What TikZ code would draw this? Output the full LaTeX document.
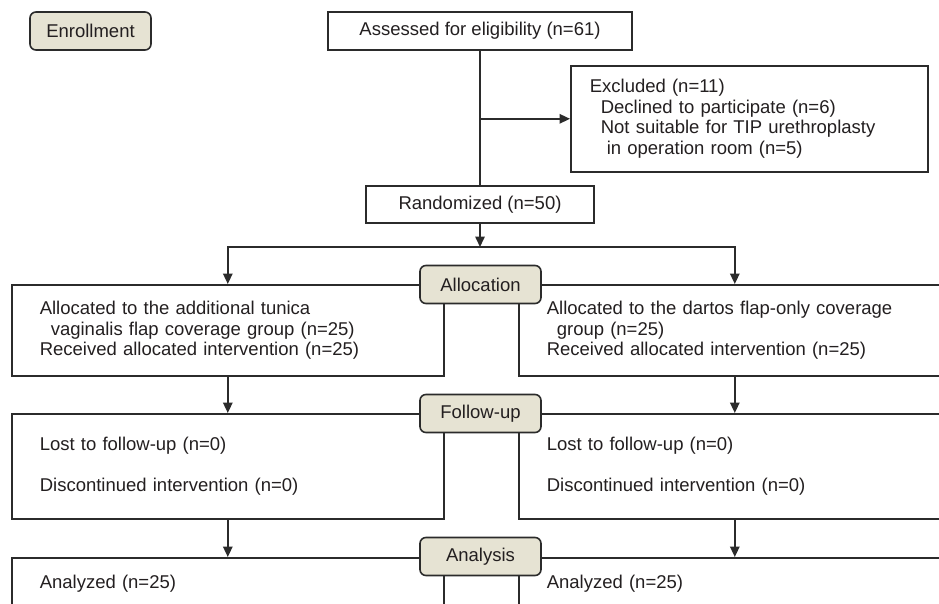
\documentclass[tikz,border=0pt]{standalone}
\usepackage{fontspec}
\setmainfont{Liberation Sans}
\usetikzlibrary{arrows.meta}
\definecolor{labfill}{HTML}{E6E3D3}
\definecolor{ln}{HTML}{2B2B2B}
\definecolor{tx}{HTML}{231F20}
\begin{document}
\begin{tikzpicture}[x=1pt,y=-1pt,
  every node/.style={font=\fontsize{18.5}{20.8}\selectfont, text=tx},
  plainbox/.style={draw=ln, line width=1.6pt, fill=white, rectangle, inner sep=0pt},
  textbox/.style={draw=ln, line width=1.6pt, fill=white, rectangle, anchor=north west,
     align=left, inner xsep=28pt, inner ysep=0pt, text width=376pt},
  stage/.style={draw=ln, line width=1.6pt, fill=labfill, rounded corners=6pt,
     minimum width=121pt, minimum height=38pt, inner sep=0pt},
  conn/.style={draw=ln, line width=1.6pt},
  arr/.style={conn, -{Triangle[length=10.5pt,width=9.5pt]}}
]
\clip (0,0) rectangle (939,604);
\fill[white] (0,0) rectangle (939,604);

% top part
\node[plainbox, minimum width=304pt, minimum height=38pt] (assess) at (480,31) {Assessed for eligibility (n=61)};
\node[plainbox, minimum width=357pt, minimum height=106pt, anchor=north west,
      align=left, text width=319pt, inner xsep=19pt] (excl) at (570,65)
  {Excluded (n=11)\\\hspace*{11pt}Declined to participate (n=6)\\\hspace*{11pt}Not suitable for TIP urethroplasty\\\hspace*{17pt}in operation room (n=5)};
\node[plainbox, minimum width=228pt, minimum height=37pt] (rand) at (480,204.5) {Randomized (n=50)};

% allocation boxes
\node[textbox, minimum height=91pt] (al) at (11,284)
  {Allocated to the additional tunica\\\hspace*{11pt}vaginalis flap coverage group (n=25)\\Received allocated intervention (n=25)};
\node[textbox, minimum height=91pt] (ar) at (518,284)
  {Allocated to the dartos flap-only coverage\\\hspace*{10pt}group (n=25)\\Received allocated intervention (n=25)};

% follow-up boxes
\node[textbox, minimum height=105pt] (fl) at (11,413)
  {Lost to follow-up (n=0)\\[20.8pt]Discontinued intervention (n=0)};
\node[textbox, minimum height=105pt] (fr) at (518,413)
  {Lost to follow-up (n=0)\\[20.8pt]Discontinued intervention (n=0)};

% analysis boxes
\node[textbox, minimum height=52pt] (nl) at (11,557) {Analyzed (n=25)};
\node[textbox, minimum height=52pt] (nr) at (518,557) {Analyzed (n=25)};

% connectors
\draw[conn] (assess.south) -- (rand.north);
\draw[arr] (assess.south |- excl.west) -- (excl.west);
\coordinate (split) at (480,247);
\draw[arr] (rand.south) -- (split);
\draw[arr] (split) -| (al.north);
\draw[arr] (split) -| (ar.north);
\draw[arr] (al.south) -- (fl.north);
\draw[arr] (ar.south) -- (fr.north);
\draw[arr] (fl.south) -- (nl.north);
\draw[arr] (fr.south) -- (nr.north);

% stage labels
\node[stage] (enr) at (90.5,31) {Enrollment};
\node[stage] (alloc) at (480.5,284.5) {Allocation};
\node[stage] (fu) at (480.5,413.5) {Follow-up};
\node[stage] (ana) at (480.5,556.5) {Analysis};
\end{tikzpicture}
\end{document}
